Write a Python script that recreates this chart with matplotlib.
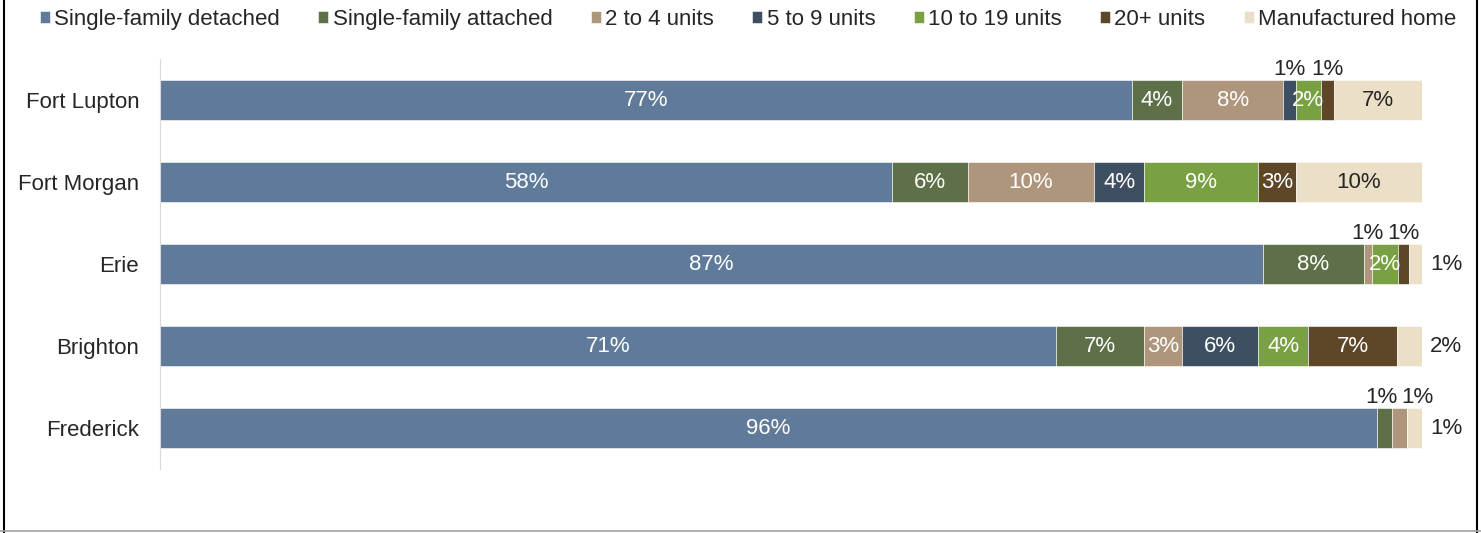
import matplotlib.pyplot as plt
from matplotlib.lines import Line2D
import numpy as np

plt.rcParams['font.family'] = ['Liberation Sans', 'DejaVu Sans']

places = ['Fort Lupton', 'Fort Morgan', 'Erie', 'Brighton', 'Frederick']
types = ['Single-family detached', 'Single-family attached', '2 to 4 units',
         '5 to 9 units', '10 to 19 units', '20+ units', 'Manufactured home']

# доли в процентах, по строкам places
detached = [77, 58, 87.4, 71, 96.4]
attached = [4, 6, 8, 7, 1.2]
units_2_4 = [8, 10, 0.6, 3, 1.2]
units_5_9 = [1, 4, 0, 6, 0]
units_10_19 = [2, 9, 2.1, 4, 0]
units_20 = [1, 3, 0.9, 7, 0]
manufactured = [7, 10, 1, 2, 1.2]

series = [detached, attached, units_2_4, units_5_9, units_10_19, units_20, manufactured]
colors = ['#5F7B99', '#5E7047', '#AE967D', '#3E4F62', '#79A042', '#5E4628', '#EBDFC7']
dark = '#262626'
fs = 16

fig = plt.figure(figsize=(14.81, 5.33), dpi=100)
ax = fig.add_axes([160/1481, 64/533, 1262/1481, 410/533])

y = np.arange(len(places))
left = np.zeros(len(places))
above = {i: [] for i in range(len(places))}

for k, (vals, col) in enumerate(zip(series, colors)):
    vals = np.array(vals, dtype=float)
    ax.barh(y, vals, left=left, height=0.48, color=col, edgecolor='white', linewidth=0.4,
            label=types[k])
    for i, v in enumerate(vals):
        if v == 0:
            continue
        txt = f'{v:.0f}%'
        cx = left[i] + v / 2
        if k == len(series) - 1:
            if v < 3:
                ax.annotate(txt, (left[i] + v, i), xytext=(6, 0), textcoords='offset points',
                            ha='left', va='center', fontsize=fs, color=dark,
                            annotation_clip=False)
            else:
                ax.text(cx, i, txt, ha='center', va='center', fontsize=fs, color=dark)
        elif v < 1.5:
            above[i].append([cx, txt])
        else:
            ax.text(cx, i, txt, ha='center', va='center', fontsize=fs, color='white')
    left += vals

# подписи над узкими сегментами, раздвигаем если налезают
for i, items in above.items():
    for j in range(1, len(items)):
        if items[j][0] - items[j - 1][0] < 2.6:
            m = (items[j][0] + items[j - 1][0]) / 2
            items[j - 1][0] = m - 0.8
            items[j][0] = m + 2.0
    for cx, txt in items:
        ax.annotate(txt, (cx, i - 0.24), xytext=(0, 0), textcoords='offset points',
                    ha='center', va='bottom', fontsize=fs, color=dark,
                    annotation_clip=False)

ax.set_xlim(0, 100)
ax.set_ylim(len(places) - 0.5, -0.5)
ax.set_yticks(y)
ax.set_yticklabels(places, fontsize=fs, color=dark)
ax.tick_params(axis='y', length=0, pad=15)
ax.set_xticks([])
for s in ['top', 'right', 'bottom']:
    ax.spines[s].set_visible(False)
ax.spines['left'].set_color('#D9D9D9')

fig.legend(loc='center left', bbox_to_anchor=(40/1481, 0.963), ncol=7, frameon=False,
           handlelength=0.45, handleheight=0.45, handletextpad=0.2, columnspacing=1.72,
           borderaxespad=0, borderpad=0, fontsize=fs, labelcolor=dark)

# рамка
fig.add_artist(Line2D([0.003, 0.003], [0, 1], transform=fig.transFigure, color='black', lw=1.5))
fig.add_artist(Line2D([0.9973, 0.9973], [0, 1], transform=fig.transFigure, color='black', lw=1.5))
fig.add_artist(Line2D([0, 1], [0.003, 0.003], transform=fig.transFigure, color='#A0A0A0', lw=1.2))

fig.savefig('out.png', dpi=100)
